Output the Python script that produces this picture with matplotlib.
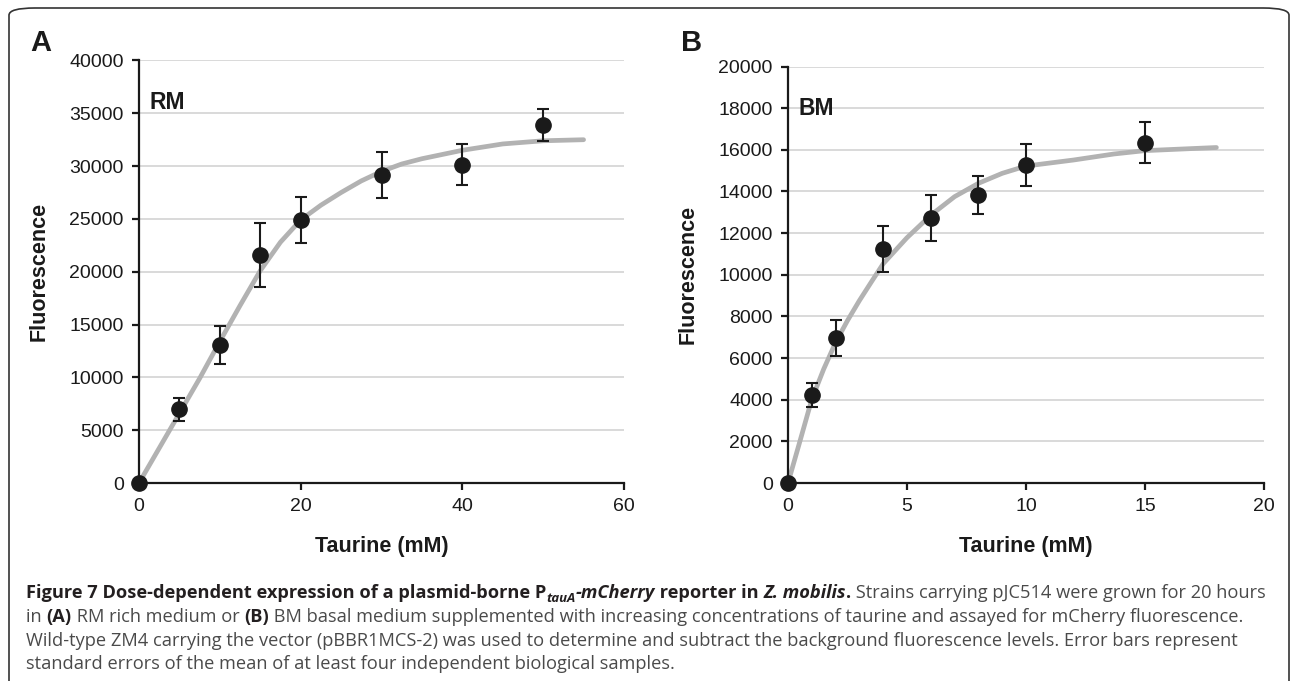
import matplotlib
matplotlib.use('Agg')
import matplotlib.pyplot as plt
from matplotlib.patches import FancyBboxPatch

plt.rcParams['font.family'] = ['Liberation Sans', 'DejaVu Sans']

# panel A: rich medium (RM)
rm_taurine = [0, 5, 10, 15, 20, 30, 40, 50]
rm_fluor = [0, 6960, 13070, 21570, 24900, 29180, 30130, 33920]
rm_err = [0, 1100, 1800, 3000, 2150, 2200, 1960, 1500]
rm_fit_x = [0, 2.5, 5, 7.5, 10, 12.5, 15, 17.5, 20, 22.5, 25, 27.5, 30, 32.5,
            35, 37.5, 40, 45, 50, 55]
rm_fit_y = [0, 3300, 6600, 9900, 13400, 16800, 20100, 22800, 24900, 26300,
            27500, 28600, 29500, 30200, 30700, 31100, 31500, 32100, 32400, 32500]

# panel B: basal medium (BM)
bm_taurine = [0, 1, 2, 4, 6, 8, 10, 15]
bm_fluor = [0, 4230, 6960, 11240, 12710, 13820, 15280, 16350]
bm_err = [0, 580, 850, 1100, 1100, 900, 1000, 970]
bm_fit_x = [0, 0.5, 1, 1.5, 2, 2.5, 3, 3.5, 4, 5, 6, 7, 8, 9, 10, 12, 13.7, 15, 18]
bm_fit_y = [0, 2000, 4020, 5470, 6750, 7800, 8760, 9650, 10530, 11780, 12860,
            13750, 14390, 14870, 15220, 15510, 15800, 15960, 16110]

W, H = 1292, 681
fig = plt.figure(figsize=(W / 100, H / 100), dpi=100)

# rounded frame around the figure (bottom edge runs off the picture)
frame = FancyBboxPatch((9 / W, -0.2), (1289 - 9) / W, 1 - 8 / H + 0.2,
                       boxstyle='round,pad=0,rounding_size=0.02', transform=fig.transFigure,
                       fill=False, edgecolor='#333333', linewidth=1.2, mutation_aspect=H / W)
fig.patches.append(frame)


def px_axes(left, right, top, bottom):
    return fig.add_axes([left / W, (H - bottom) / H, (right - left) / W, (bottom - top) / H])


def panel(ax, xs, ys, err, fx, fy, xmax, ymax, ystep, xstep, tag):
    ax.plot(fx, fy, color='#b2b2b2', linewidth=3.4, solid_capstyle='round',
            solid_joinstyle='round', zorder=2)
    ax.errorbar(xs, ys, yerr=err, fmt='o', color='#1a1a1a', markersize=11,
                ecolor='#1a1a1a', elinewidth=1.5, capsize=4.3, capthick=1.5,
                zorder=3, clip_on=False)
    ax.set_xlim(0, xmax)
    ax.set_ylim(0, ymax)
    ax.set_yticks(range(0, ymax + 1, ystep))
    ax.set_xticks(range(0, xmax + 1, xstep))
    ax.grid(axis='y', color='#d9d9d9', linewidth=1.4)
    ax.set_axisbelow(True)
    for s in ['top', 'right']:
        ax.spines[s].set_visible(False)
    for s in ['left', 'bottom']:
        ax.spines[s].set_linewidth(1.6)
        ax.spines[s].set_color('#1a1a1a')
    ax.tick_params(axis='both', direction='out', length=5, width=1.6, color='#1a1a1a',
                   labelsize=14, labelcolor='#1a1a1a', pad=6)
    ax.set_xlabel('Taurine (mM)', fontsize=15.5, fontweight='bold', color='#1a1a1a', labelpad=15)
    ax.set_ylabel('Fluorescence', fontsize=15.5, fontweight='bold', color='#1a1a1a', labelpad=14)
    ax.text(0.022, 0.9, tag, transform=ax.transAxes, fontsize=16.5, fontweight='bold',
            color='#1a1a1a', va='center', ha='left')


axA = px_axes(139, 624, 60.5, 483)
panel(axA, rm_taurine, rm_fluor, rm_err, rm_fit_x, rm_fit_y, 60, 40000, 5000, 20, 'RM')
axB = px_axes(788, 1264, 66.5, 483)
panel(axB, bm_taurine, bm_fluor, bm_err, bm_fit_x, bm_fit_y, 20, 20000, 2000, 5, 'BM')

fig.text(41 / W, 1 - 43 / H, 'A', fontsize=21, fontweight='bold', color='#1a1a1a',
         ha='center', va='center')
fig.text(692 / W, 1 - 43 / H, 'B', fontsize=21, fontweight='bold', color='#1a1a1a',
         ha='center', va='center')

# caption, drawn as runs of differently styled text
cap_font = ['Open Sans', 'DejaVu Sans']
cap_size = 13.15
dark = '#231f20'
grey = '#4a4a4a'
B_ = dict(fontweight='bold', color=dark)
BI = dict(fontweight='bold', fontstyle='italic', color=dark)
R_ = dict(color=grey)

caption_lines = [
    [('Figure 7 Dose-dependent expression of a plasmid-borne P', B_),
     ('tauA', dict(BI, sub=True)), ('-mCherry', BI), (' reporter in ', B_),
     ('Z. mobilis', BI), ('.', B_),
     (' Strains carrying pJC514 were grown for 20 hours', R_)],
    [('in ', R_), ('(A)', B_), (' RM rich medium or ', R_), ('(B)', B_),
     (' BM basal medium supplemented with increasing concentrations of taurine and assayed for mCherry fluorescence.', R_)],
    [('Wild-type ZM4 carrying the vector (pBBR1MCS-2) was used to determine and subtract the background fluorescence levels. Error bars represent', R_)],
    [('standard errors of the mean of at least four independent biological samples.', R_)],
]
line_y = [598, 622, 646, 669]

fig.canvas.draw()
renderer = fig.canvas.get_renderer()
for runs, yb in zip(caption_lines, line_y):
    x = 26
    for text, style in runs:
        st = dict(style)
        sub = st.pop('sub', False)
        size = cap_size * 0.72 if sub else cap_size
        y = yb + (4 if sub else 0)
        t = fig.text(x / W, 1 - y / H, text, fontsize=size, family=cap_font,
                     ha='left', va='baseline', **st)
        bb = t.get_window_extent(renderer)
        x += bb.width

fig.savefig('out.png', dpi=100)
